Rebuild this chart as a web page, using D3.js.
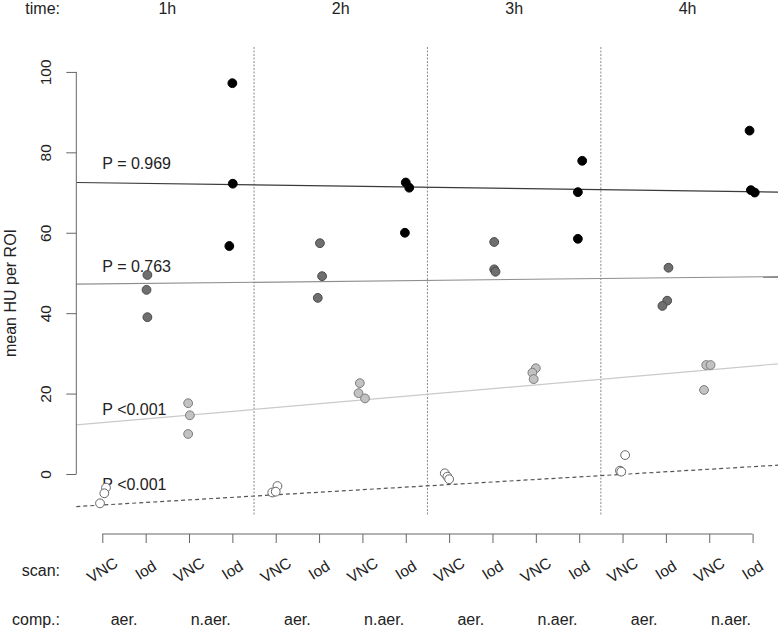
<!DOCTYPE html>
<html>
<head>
<meta charset="utf-8">
<script src="https://d3js.org/d3.v7.min.js"></script>
<style>
  body { margin: 0; background: #fff; }
  svg text { font-family: "Liberation Sans", Arial, sans-serif; fill: #222; }
</style>
</head>
<body>
<svg id="chart"></svg>
<script>
var dims = { width: 778, height: 629 }

// categories along the x axis (16 positions)
var times = ["1h", "2h", "3h", "4h"]
var comps = ["aer.", "n.aer."]
var scans = ["VNC", "Iod"]

// measured HU per ROI, three ROIs per position
var groupValues = [
  [-3.4, -4.8, -7.3],
  [49.5, 45.8, 39.0],
  [17.6, 14.6, 9.95],
  [97.2, 72.2, 56.7],
  [-3.0, -4.6, -4.4],
  [57.4, 49.2, 43.8],
  [22.6, 20.1, 18.8],
  [72.5, 71.2, 60.0],
  [0.17, -0.66, -1.3],
  [57.7, 50.9, 50.3],
  [26.3, 25.2, 23.6],
  [77.9, 70.1, 58.5],
  [4.7, 0.83, 0.58],
  [51.3, 43.1, 41.8],
  [27.1, 27.1, 20.9],
  [85.4, 70.6, 70.0]
]
// jittered x positions of the same points (category units)
var groupX = [
  [1.085, 1.046, 0.947],
  [2.04, 2.02, 2.04],
  [2.98, 3.02, 2.98],
  [4.0, 4.01, 3.93],
  [5.04, 4.92, 5.0],
  [6.02, 6.07, 5.97],
  [6.94, 6.91, 7.06],
  [8.0, 8.08, 7.98],
  [8.90, 8.96, 9.0],
  [10.04, 10.04, 10.07],
  [11.0, 10.92, 10.95],
  [12.07, 11.97, 11.97],
  [13.06, 12.94, 12.97],
  [14.06, 14.03, 13.92],
  [14.93, 15.03, 14.88],
  [15.93, 15.96, 16.05]
]

// trend lines per series (VNC aer, VNC n.aer, Iod aer, Iod n.aer): value at left / right edge
var trendStart = [-8.1, 12.2, 47.2, 72.5]
var trendEnd = [2.2, 27.4, 49.1, 70.1]
var pLabels = ["P <0.001", "P <0.001", "P = 0.763", "P = 0.969"]
var pLabelY = [-2.5, 16.2, 51.6, 77.3]

var yTicks = [0, 20, 40, 60, 80, 100]

// style per series: 0 VNC aer, 1 Iod aer, 2 VNC n.aer, 3 Iod n.aer
var pointFill = ["#ffffff", "#6f6f6f", "#c2c2c2", "#000000"]
var pointStroke = ["#666666", "#4a4a4a", "#7c7c7c", "#000000"]
var lineColor = ["#555555", "#cacaca", "#8e8e8e", "#3a3a3a"]

var svg = d3.select("#chart")
  .attr("width", dims.width)
  .attr("height", dims.height)

var xScale = d3.scaleLinear()
  .domain([0.4, 16.6])
  .range([76.3, 778.6])
var yScale = d3.scaleLinear()
  .domain([-10.2, 106.2])
  .range([515, 47])

// separators between time blocks
svg.selectAll(".sep")
  .data([4.5, 8.5, 12.5])
  .enter().append("line")
  .attr("x1", d => xScale(d)).attr("x2", d => xScale(d))
  .attr("y1", yScale(106.2)).attr("y2", yScale(-10.2))
  .attr("stroke", "#8a8a8a")
  .attr("stroke-width", 1)
  .attr("stroke-dasharray", "2,1.5")

// trend lines
svg.selectAll(".trend")
  .data(trendStart)
  .enter().append("line")
  .attr("class", "trend")
  .attr("x1", xScale(0.4))
  .attr("x2", xScale(16.6))
  .attr("y1", d => yScale(d))
  .attr("y2", (d, i) => yScale(trendEnd[i]))
  .attr("stroke", (d, i) => lineColor[i])
  .attr("stroke-width", 1.2)
  .attr("stroke-dasharray", (d, i) => i == 0 ? "4,3" : null)

svg.selectAll(".plab")
  .data(pLabels)
  .enter().append("text")
  .attr("x", xScale(1))
  .attr("y", (d, i) => yScale(pLabelY[i]))
  .attr("dy", "0.36em")
  .style("font-size", "16px")
  .text(d => d)

// points
var points = []
groupValues.forEach(function(g, gi) {
  g.forEach(function(v, k) {
    points.push({ x: groupX[gi][k], v: v, s: gi % 4 })
  })
})
svg.selectAll(".pt")
  .data(points)
  .enter().append("circle")
  .attr("class", "pt")
  .attr("cx", d => xScale(d.x))
  .attr("cy", d => yScale(d.v))
  .attr("r", 4.4)
  .attr("fill", d => pointFill[d.s])
  .attr("stroke", d => pointStroke[d.s])
  .attr("stroke-width", 1)

// y axis
var yAxis = svg.append("g")
  .attr("transform", "translate(" + xScale(0.4) + ",0)")
  .call(d3.axisLeft(yScale).tickValues(yTicks).tickSize(10).tickSizeOuter(0).tickFormat(d3.format("d")))
yAxis.select(".domain").attr("stroke", "#666").attr("d", "M0," + yScale(0) + "V" + yScale(100))
yAxis.selectAll(".tick line").attr("stroke", "#666")
yAxis.selectAll(".tick text")
  .attr("x", null).attr("dy", null)
  .attr("transform", "translate(-25,0) rotate(-90)")
  .attr("text-anchor", "middle")
  .style("font-size", "15.5px")
  .style("font-family", "Liberation Sans, Arial, sans-serif")
  .attr("fill", "#222")

svg.append("text")
  .attr("transform", "translate(16,293) rotate(-90)")
  .attr("text-anchor", "middle")
  .style("font-size", "16px")
  .text("mean HU per ROI")

// bottom axis with scan / composition rows
var idx = d3.range(1, 17)
var xAxis = svg.append("g")
  .attr("transform", "translate(0,534)")
  .call(d3.axisBottom(xScale).tickValues(idx).tickSize(9).tickSizeOuter(0).tickFormat(""))
xAxis.select(".domain").attr("stroke", "#666").attr("d", "M" + xScale(1) + ",0H" + xScale(16))
xAxis.selectAll(".tick line").attr("stroke", "#666")

svg.selectAll(".scan")
  .data(idx)
  .enter().append("text")
  .attr("transform", d => "translate(" + xScale(d) + ",570) rotate(-32)")
  .attr("text-anchor", "middle")
  .attr("dy", "0.35em")
  .style("font-size", "15.5px")
  .text((d, i) => scans[i % 2])

svg.selectAll(".comp")
  .data(d3.range(8))
  .enter().append("text")
  .attr("x", d => xScale(d * 2 + 1.5))
  .attr("y", 625)
  .attr("text-anchor", "middle")
  .style("font-size", "16px")
  .text(d => comps[d % 2])

svg.selectAll(".time")
  .data(times)
  .enter().append("text")
  .attr("x", (d, i) => xScale(i * 4 + 2.5))
  .attr("y", 14)
  .attr("text-anchor", "middle")
  .style("font-size", "16px")
  .text(d => d)

var rowLabels = [["time:", 14], ["scan:", 576], ["comp.:", 625]]
svg.selectAll(".rowlab")
  .data(rowLabels)
  .enter().append("text")
  .attr("x", 60)
  .attr("y", d => d[1])
  .attr("text-anchor", "end")
  .style("font-size", "16px")
  .text(d => d[0])
</script>
</body>
</html>
